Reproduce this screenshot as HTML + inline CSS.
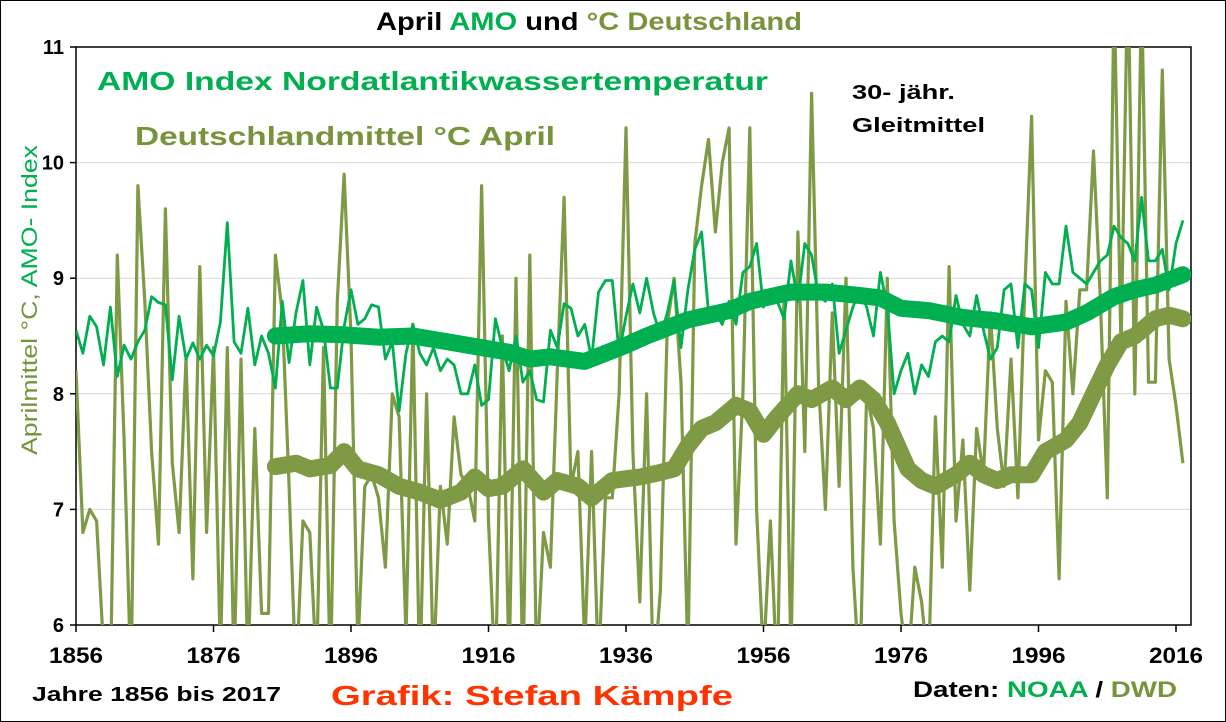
<!DOCTYPE html>
<html><head><meta charset="utf-8">
<style>
html,body{margin:0;padding:0;background:#fff;}
body{width:1226px;height:722px;overflow:hidden;font-family:"Liberation Sans",Arial,sans-serif;}
#frame{position:absolute;left:0;top:0;width:1224px;height:720px;border:1px solid #000;}
</style></head>
<body>
<div id="frame"></div>
<svg id="chart" width="1226" height="722" style="position:absolute;left:0;top:0">
  <defs><clipPath id="plotclip"><rect x="76" y="47" width="1115" height="578"/></clipPath></defs>
  <text x="376" y="30" textLength="426" lengthAdjust="spacingAndGlyphs" font-size="25" font-weight="bold"><tspan fill="#000">April </tspan><tspan fill="#00b050">AMO</tspan><tspan fill="#000"> und </tspan><tspan fill="#77933c">°C Deutschland</tspan></text>
  <g id="grid"></g>
  <g id="axes"></g>
  <g id="series" clip-path="url(#plotclip)"></g>
  <text transform="translate(37,455) rotate(-90)" textLength="310" lengthAdjust="spacingAndGlyphs" font-size="22"><tspan fill="#77933c">Aprilmittel °C, </tspan><tspan fill="#00b050">AMO- Index</tspan></text>
  <text x="97" y="90" textLength="671" lengthAdjust="spacingAndGlyphs" font-size="26" font-weight="bold" fill="#00b050">AMO Index Nordatlantikwassertemperatur</text>
  <text x="135" y="145" textLength="420" lengthAdjust="spacingAndGlyphs" font-size="26" font-weight="bold" fill="#77933c">Deutschlandmittel °C April</text>
  <text x="852" y="99" textLength="103" lengthAdjust="spacingAndGlyphs" font-size="20" font-weight="bold" fill="#000">30- jähr.</text>
  <text x="852" y="132" textLength="133" lengthAdjust="spacingAndGlyphs" font-size="20" font-weight="bold" fill="#000">Gleitmittel</text>
  <text x="32" y="701" textLength="249" lengthAdjust="spacingAndGlyphs" font-size="20" font-weight="bold" fill="#000">Jahre 1856 bis 2017</text>
  <text x="331" y="705" textLength="402" lengthAdjust="spacingAndGlyphs" font-size="28" font-weight="bold" fill="#ff3300">Grafik: Stefan Kämpfe</text>
  <text x="913" y="697" textLength="264" lengthAdjust="spacingAndGlyphs" font-size="22" font-weight="bold"><tspan fill="#000">Daten: </tspan><tspan fill="#00b050">NOAA</tspan><tspan fill="#000"> / </tspan><tspan fill="#77933c">DWD</tspan></text>
</svg>
<script>
const startYear = 1856;
const yTicks = [6,7,8,9,10,11];
const xTickYears = [1856,1876,1896,1916,1936,1956,1976,1996,2016];
const deValues = [8.2,6.8,7.0,6.9,5.8,5.5,9.2,7.6,5.5,9.8,8.8,7.5,6.7,9.6,7.4,6.8,8.3,6.4,9.1,6.8,
8.4,5.7,8.4,5.6,8.3,5.6,7.7,6.1,6.1,9.2,8.7,7.2,5.5,6.9,6.8,5.6,8.4,5.5,8.8,9.9,
8.5,5.8,7.2,7.3,7.1,6.5,8.0,7.8,5.9,8.6,5.5,8.0,5.6,7.2,6.7,7.8,7.3,7.2,6.9,9.8,
6.9,5.5,8.5,5.6,9.0,5.5,9.2,5.6,6.8,6.5,8.2,9.7,7.2,7.5,5.8,7.5,5.6,7.1,7.1,8.0,
10.3,7.5,6.2,8.0,5.5,6.3,8.6,9.0,8.1,5.7,9.3,9.8,10.2,9.4,10.0,10.3,6.7,8.0,10.3,7.0,
5.7,6.9,5.5,8.9,5.7,9.4,7.5,10.6,8.1,7.0,8.7,7.2,9.0,6.5,5.5,8.0,7.7,6.7,9.0,6.9,
6.1,5.6,6.5,6.2,5.6,7.8,6.5,9.1,6.9,7.6,6.3,7.7,7.3,8.7,7.7,7.2,8.3,7.1,8.9,10.4,
7.6,8.2,8.1,6.4,8.8,8.0,8.9,8.9,10.1,8.8,7.1,11.5,8.4,11.7,8.0,11.5,8.1,8.1,10.8,8.3,
7.9,7.4];
const amoValues = [8.55,8.35,8.67,8.58,8.25,8.75,8.15,8.42,8.3,8.45,8.55,8.84,8.79,8.77,8.12,8.67,8.3,8.44,8.3,8.42,
8.33,8.62,9.48,8.45,8.35,8.74,8.25,8.5,8.35,8.05,8.8,8.27,8.7,8.98,8.25,8.75,8.55,8.05,8.05,8.58,
8.9,8.6,8.65,8.77,8.75,8.3,8.45,7.85,8.35,8.6,8.35,8.25,8.4,8.2,8.3,8.25,8.0,8.0,8.25,7.9,
7.95,8.65,8.4,8.2,8.5,8.1,8.2,7.95,7.93,8.55,8.4,8.78,8.74,8.5,8.6,8.3,8.88,8.98,8.98,8.35,
8.67,8.95,8.7,9.0,8.7,8.5,8.7,8.98,8.4,8.9,9.25,9.4,8.7,8.7,8.6,8.8,8.6,9.05,9.1,9.3,
8.75,8.9,8.8,8.65,9.15,8.8,9.3,9.2,8.85,8.8,8.95,8.35,8.55,8.75,8.9,8.75,8.5,9.05,8.75,8.0,
8.2,8.35,8.0,8.25,8.15,8.45,8.5,8.45,8.85,8.6,8.5,8.85,8.55,8.3,8.4,8.9,8.95,8.4,8.95,8.9,
8.4,9.05,8.95,8.95,9.45,9.05,9.0,8.95,9.05,9.15,9.2,9.45,9.35,9.3,9.15,9.7,9.15,9.15,9.25,8.9,
9.3,9.5];
const amoSmoothYears = [1885,1890,1895,1900,1905,1910,1915,1919,1922,1925,1930,1933,1936,1939,1942,1945,1948,1951,1954,1957,1960,1965,1970,1973,1976,1980,1985,1990,1995,2000,2003,2007,2010,2013,2017];
const amoSmoothValues = [8.5,8.52,8.51,8.49,8.5,8.45,8.4,8.36,8.3,8.32,8.28,8.35,8.42,8.5,8.57,8.64,8.68,8.72,8.8,8.84,8.88,8.88,8.85,8.83,8.74,8.72,8.66,8.63,8.58,8.62,8.7,8.84,8.9,8.94,9.03];
const deSmoothYears = [1885,1888,1890,1893,1895,1897,1900,1903,1906,1909,1912,1914,1916,1918,1921,1924,1926,1929,1931,1934,1938,1941,1943,1945,1947,1949,1952,1954,1956,1958,1961,1963,1966,1968,1970,1972,1974,1977,1979,1981,1984,1986,1988,1990,1992,1995,1997,2000,2002,2004,2006,2008,2010,2013,2015,2017];
const deSmoothValues = [7.37,7.4,7.35,7.38,7.5,7.35,7.3,7.2,7.15,7.08,7.15,7.28,7.18,7.2,7.35,7.15,7.25,7.2,7.1,7.25,7.28,7.32,7.35,7.55,7.7,7.75,7.9,7.85,7.65,7.8,8.0,7.95,8.05,7.95,8.05,7.95,7.75,7.35,7.25,7.2,7.3,7.4,7.3,7.25,7.3,7.3,7.5,7.6,7.75,8.0,8.25,8.45,8.5,8.65,8.68,8.65];

const NS='http://www.w3.org/2000/svg';
const X0=76, PXY=6.875, YTOP=47, YBOT=625, VMIN=6, VMAX=11, XRIGHT=1191;
function xScale(year){return X0+(year-startYear)*PXY;}
function yScale(v){return YBOT-(v-VMIN)/(VMAX-VMIN)*(YBOT-YTOP);}
function mk(tag,attrs,parent){const e=document.createElementNS(NS,tag);for(const k in attrs)e.setAttribute(k,attrs[k]);parent.appendChild(e);return e;}

const grid=document.getElementById('grid'), axes=document.getElementById('axes'), series=document.getElementById('series');
yTicks.forEach(function(t){
  if(t>VMIN){const g=mk('line',{x1:X0,x2:XRIGHT,y1:yScale(t),y2:yScale(t),stroke:'#d9d9d9','stroke-width':1},grid);
  
  }
  const tk=mk('line',{x1:X0-6,x2:X0,y1:yScale(t),y2:yScale(t),stroke:'#000','stroke-width':1.5},axes);
  
  
  const lb=mk('text',{x:X0-12,y:yScale(t)+7,'text-anchor':'end','font-size':20,'font-weight':'bold',fill:'#000'},axes);
  lb.textContent=t;
  
  
});
const box=mk('rect',{x:X0,y:YTOP,width:XRIGHT-X0,height:YBOT-YTOP,fill:'none',stroke:'#000','stroke-width':1.5},axes);


xTickYears.forEach(function(yr){
  const tk=mk('line',{x1:xScale(yr),x2:xScale(yr),y1:YBOT,y2:YBOT+7,stroke:'#000','stroke-width':1.5},axes);
  
  
  const lb=mk('text',{x:xScale(yr)-27,y:YBOT+38,textLength:54,lengthAdjust:'spacingAndGlyphs','font-size':22,'font-weight':'bold',fill:'#000'},axes);
  lb.textContent=yr;
  
  
});
function pathAnnual(vals){return vals.map(function(v,i){return (i?'L':'M')+xScale(startYear+i).toFixed(1)+' '+yScale(v).toFixed(1);}).join(' ');}
function pathXY(ys,vs){return vs.map(function(v,i){return (i?'L':'M')+xScale(ys[i]).toFixed(1)+' '+yScale(v).toFixed(1);}).join(' ');}
const l1=mk('path',{d:pathAnnual(deValues),fill:'none',stroke:'#7f9a44','stroke-width':3.2,'stroke-linejoin':'round'},series);


const l2=mk('path',{d:pathAnnual(amoValues),fill:'none',stroke:'#00b050','stroke-width':2.8,'stroke-linejoin':'round'},series);


const l3=mk('path',{d:pathXY(amoSmoothYears,amoSmoothValues),fill:'none',stroke:'#00b050','stroke-width':17,'stroke-linejoin':'round','stroke-linecap':'round'},series);


const l4=mk('path',{d:pathXY(deSmoothYears,deSmoothValues),fill:'none',stroke:'#7f9a44','stroke-width':17,'stroke-linejoin':'round','stroke-linecap':'round'},series);


</script>
</body></html>
